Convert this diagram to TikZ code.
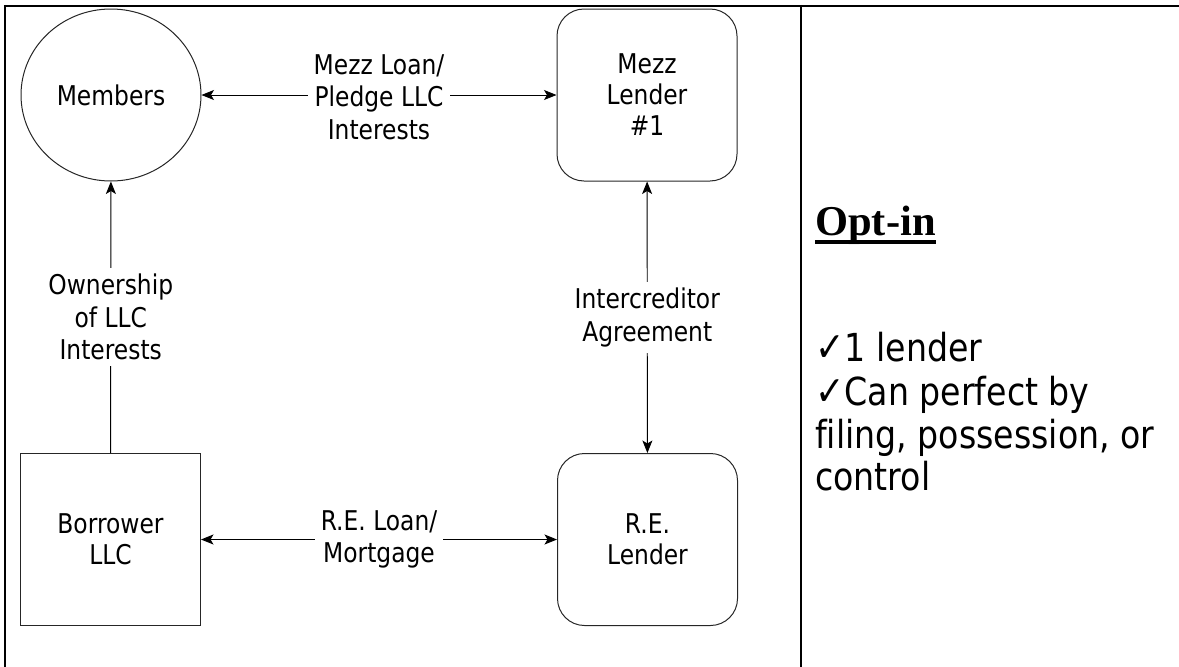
\documentclass[tikz,border=0pt]{standalone}
\usepackage{fontspec}
\setmainfont{DejaVu Sans}[FakeStretch=0.86, Ligatures=NoCommon]
\newfontfamily\headfont{Liberation Serif}
\usetikzlibrary{shapes.geometric,arrows.meta}

\tikzset{
  rule/.style={line width=2.2pt, black},
  entity/.style={draw=black!85, line width=1pt, inner sep=0pt,
    minimum width=180pt, minimum height=172pt, align=center,
    font=\fontsize{27.2}{31}\selectfont},
  party/.style={entity, ellipse},
  lender/.style={entity, rectangle, rounded corners=27pt},
  firm/.style={entity, rectangle},
  link/.style={draw=black, line width=0.9pt},
  flowlabel/.style={fill=white, inner sep=6pt, align=center,
    font=\fontsize{27.2}{32.5}\selectfont},
  note/.style={anchor=base west, inner sep=0pt,
    font=\fontsize{38.6}{43}\selectfont},
}
\newcommand{\tick}{{\fontsize{41}{43}\selectfont ✓}}

\begin{document}
\begin{tikzpicture}[x=1pt, y=-1pt, >={Stealth[length=12.5pt, width=10pt, inset=3pt]}]
\useasboundingbox (0,0) rectangle (1179,667);

% table frame
\draw[rule] (3.9,6) -- (1179,6);
\draw[rule] (5,4.9) -- (5,667);
\draw[rule] (801,4.9) -- (801,667);

% parties
\node[party]  (members)  at (111,95)   {Members};
\node[lender] (mezz)     at (647,95)   {Mezz\\Lender\\\#1};
\node[firm]   (borrower) at (110.5,539.5) {Borrower\\LLC};
\node[lender] (relender) at (647.5,539.5) {R.E.\\Lender};

% relationships
\draw[link, <->] (members) -- node[flowlabel, yshift=-2pt] {Mezz Loan/\\Pledge LLC\\Interests} (mezz);
\draw[link, ->] (borrower) -- node[flowlabel] {Ownership\\of LLC\\Interests} (members);
\draw[link, <->] (mezz) -- node[flowlabel] {Intercreditor\\Agreement} (relender);
\draw[link, <->] (borrower) -- node[flowlabel] {R.E. Loan/\\Mortgage} (relender);

% right column
\node[anchor=base west, inner sep=0pt, font=\headfont\bfseries\fontsize{42.5}{48}\selectfont]
  (optin) at (815,235) {Opt-in};
\draw[line width=3.4pt] ([yshift=-7pt]optin.base west) -- ([yshift=-7pt]optin.base east);

\node[note] (point1) at (815,361) {\tick1 lender};
\node[note] (point2) at (815,405) {\tick Can perfect by};
\node[note] (point3) at (815,448) {filing, possession, or};
\node[note] (point4) at (815,490) {control};
\end{tikzpicture}
\end{document}
